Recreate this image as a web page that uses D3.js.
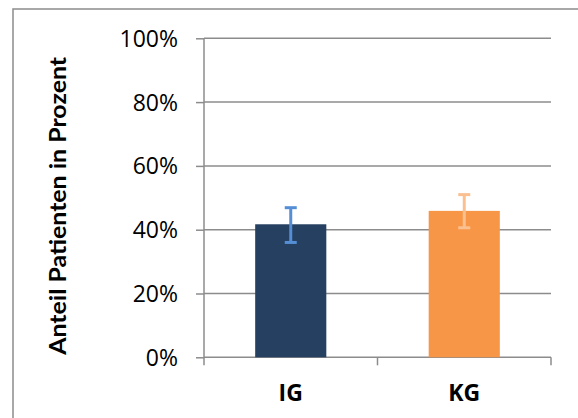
<!DOCTYPE html>
<html><head><meta charset="utf-8">
<script src="https://cdn.jsdelivr.net/npm/d3@7"></script>
<style>html,body{margin:0;padding:0;background:#fff;}svg{display:block;}</style>
</head><body>
<svg id="chart" width="578" height="418"></svg>
<script>
const categories = ["IG", "KG"];
const values = [0.417, 0.459];
const errLow = [0.360, 0.406];
const errHigh = [0.469, 0.510];
const yTicks = [0, 0.2, 0.4, 0.6, 0.8, 1.0];
const barColors = ["#254061", "#f79646"];
const errColors = ["#558ed5", "#fac090"];
const yTitle = "Anteil Patienten in Prozent";

const svg = d3.select("#chart");
const grey = "#8c8c8c";
const plotL = 204, plotR = 551, plotT = 38.3, plotB = 357.3;

// outer frame
svg.append("rect").attr("x", 13).attr("y", 9).attr("width", 600).attr("height", 450)
  .attr("fill", "none").attr("stroke", grey).attr("stroke-width", 1.5);

const y = d3.scaleLinear().domain([0, 1]).range([plotB, plotT]);
const x = d3.scaleBand().domain(categories).range([plotL, plotR]).padding(0);

// gridlines
svg.append("g").selectAll("line").data(yTicks).join("line")
  .attr("x1", plotL).attr("x2", plotR)
  .attr("y1", d => y(d)).attr("y2", d => y(d))
  .attr("stroke", grey).attr("stroke-width", 1.5);

// y axis
const yAxis = d3.axisLeft(y).tickValues(yTicks).tickSize(8).tickPadding(18)
  .tickFormat(d => Math.round(d * 100) + "%");
const gy = svg.append("g").attr("transform", `translate(${plotL},0)`).call(yAxis);
gy.select(".domain").attr("stroke", grey).attr("stroke-width", 1.5).attr("d", `M0,${plotT}V${plotB}`);
gy.selectAll(".tick line").attr("stroke", grey).attr("stroke-width", 1.5);
gy.selectAll(".tick text").attr("fill", "#000").style("font-family", "'Open Sans'").style("font-size", "23px").attr("dy", "0.35em");

// x axis ticks at band boundaries
const xTickPos = categories.map(c => x(c)).concat([x(categories[categories.length - 1]) + x.step()]);
svg.append("g").selectAll("line").data(xTickPos).join("line")
  .attr("x1", d => d).attr("x2", d => d).attr("y1", plotB).attr("y2", plotB + 8)
  .attr("stroke", grey).attr("stroke-width", 1.5);

// x labels
svg.append("g").selectAll("text").data(categories).join("text")
  .attr("x", d => x(d) + x.bandwidth() / 2).attr("y", 401)
  .attr("text-anchor", "middle").style("font-family", "'Open Sans'").style("font-weight", "bold")
  .style("font-size", "23px").attr("fill", "#000").text(d => d);

// bars
const bw = x.bandwidth() * 0.41;
svg.append("g").selectAll("rect").data(categories).join("rect")
  .attr("x", d => x(d) + x.bandwidth() / 2 - bw / 2)
  .attr("width", bw)
  .attr("y", (d, i) => y(values[i]))
  .attr("height", (d, i) => plotB - y(values[i]))
  .attr("fill", (d, i) => barColors[i]);

// error bars
const eg = svg.append("g");
categories.forEach((c, i) => {
  const cx = x(c) + x.bandwidth() / 2;
  const g = eg.append("g").attr("stroke", errColors[i]).attr("stroke-width", 3);
  g.append("line").attr("x1", cx).attr("x2", cx).attr("y1", y(errLow[i])).attr("y2", y(errHigh[i]));
  g.append("line").attr("x1", cx - 6).attr("x2", cx + 6).attr("y1", y(errLow[i])).attr("y2", y(errLow[i]));
  g.append("line").attr("x1", cx - 6).attr("x2", cx + 6).attr("y1", y(errHigh[i])).attr("y2", y(errHigh[i]));
});

// y title
svg.append("text").attr("transform", `translate(66,${(56.7 + 355) / 2}) rotate(-90)`)
  .attr("text-anchor", "middle").style("font-family", "Lato").style("font-weight", "bold")
  .style("font-size", "23px").attr("textLength", 298).attr("lengthAdjust", "spacingAndGlyphs")
  .attr("fill", "#000").text(yTitle);
</script>
</body></html>
